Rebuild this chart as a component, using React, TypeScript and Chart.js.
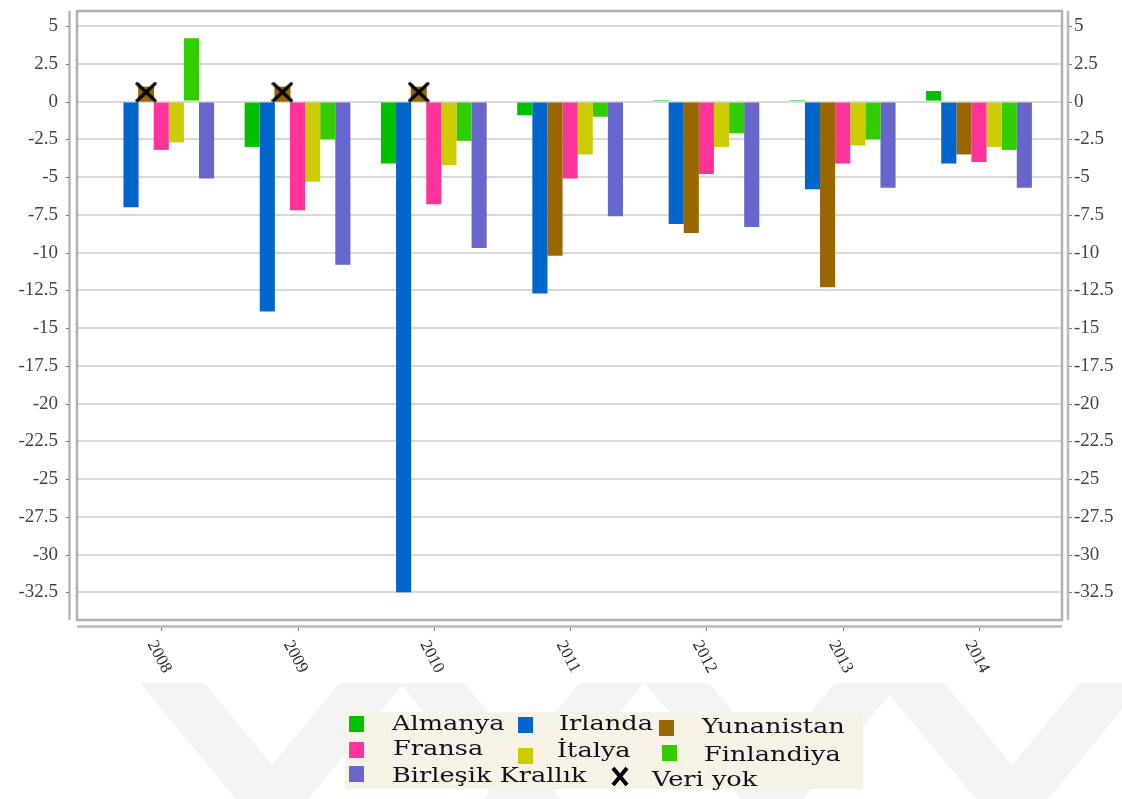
import { useEffect, useRef } from 'react';
import { Chart, registerables } from 'chart.js';

Chart.register(...registerables);

// Years on the horizontal axis
const YEARS = ['2008', '2009', '2010', '2011', '2012', '2013', '2014'];

// Values per country and year (null = no bar)
const ALMANYA = [null, -3.0, -4.1, -0.9, 0.1, 0.1, 0.7];
const IRLANDA = [-7.0, -13.9, -32.5, -12.7, -8.1, -5.8, -4.1];
const YUNANISTAN = [null, null, null, -10.2, -8.7, -12.3, -3.5];
const FRANSA = [-3.2, -7.2, -6.8, -5.1, -4.8, -4.1, -4.0];
const ITALYA = [-2.7, -5.3, -4.2, -3.5, -3.0, -2.9, -3.0];
const FINLANDIYA = [4.2, -2.5, -2.6, -1.0, -2.1, -2.5, -3.2];
const BIRLESIK = [-5.1, -10.8, -9.7, -7.6, -8.3, -5.7, -5.7];

// Years in which Yunanistan has no data
const VERI_YOK_YEARS = ['2008', '2009', '2010'];

const SERIES_LABELS = ['Almanya', 'Irlanda', 'Yunanistan', 'Fransa', 'İtalya', 'Finlandiya', 'Birleşik Krallık'];
const SERIES_VALUES = [ALMANYA, IRLANDA, YUNANISTAN, FRANSA, ITALYA, FINLANDIYA, BIRLESIK];
const SERIES_COLORS = ['#00c000', '#0066cc', '#996600', '#ff3399', '#cccc00', '#33cc00', '#6666cc'];

const Y_TICKS = [5, 2.5, 0, -2.5, -5, -7.5, -10, -12.5, -15, -17.5, -20, -22.5, -25, -27.5, -30, -32.5];
const Y_MIN = -34.33;
const Y_MAX = 6.0;

const CATEGORY_PCT = 0.776;
const NO_DATA_SERIES = 2; // Yunanistan slot inside each year group

const W = 1122;
const H = 799;
const AREA = { left: 77, top: 4, right: 1062, bottom: 620 };

const LABEL_FONT = "17px 'Liberation Serif', 'Times New Roman', serif";
const LEGEND_FONT = "21px 'DejaVu Serif', serif";

function makeNoDataMarker(): HTMLCanvasElement {
  const c = document.createElement('canvas');
  c.width = 22;
  c.height = 40;
  const ctx = c.getContext('2d')!;
  ctx.fillStyle = '#996600';
  ctx.fillRect(3, 5, 16, 15);
  ctx.strokeStyle = '#000';
  ctx.lineWidth = 3.2;
  ctx.lineCap = 'round';
  ctx.beginPath();
  ctx.moveTo(2, 2);
  ctx.lineTo(20, 19);
  ctx.moveTo(20, 2);
  ctx.lineTo(2, 19);
  ctx.stroke();
  return c;
}

const backdropPlugin = {
  id: 'backdrop',
  beforeDraw(chart: any) {
    const ctx = chart.ctx as CanvasRenderingContext2D;
    ctx.save();
    ctx.fillStyle = '#fff';
    ctx.fillRect(0, 0, W, H);
    // faint chevron watermark at the bottom of the page
    ctx.fillStyle = '#f4f4f4';
    const top = 683;
    const bottom = H;
    const dx = 96;
    const bands: [number, number][] = [
      [140, 1], [340, -1], [400, 1], [580, -1], [645, 1], [835, -1], [880, 1], [1080, -1],
    ];
    for (const [x, dir] of bands) {
      ctx.beginPath();
      ctx.moveTo(x, top);
      ctx.lineTo(x + 64, top);
      ctx.lineTo(x + 64 + dir * dx, bottom);
      ctx.lineTo(x + dir * dx, bottom);
      ctx.closePath();
      ctx.fill();
    }
    ctx.restore();
  },
};

const framePlugin = {
  id: 'frame',
  afterDraw(chart: any) {
    const ctx = chart.ctx as CanvasRenderingContext2D;
    const xs = chart.scales.x;
    const ys = chart.scales.y;
    const { left, top, right, bottom } = chart.chartArea;
    ctx.save();

    // plot frame
    ctx.strokeStyle = '#b0b0b0';
    ctx.lineWidth = 2.5;
    ctx.strokeRect(left, top, right - left, bottom - top);

    // axis lines set slightly apart from the frame
    ctx.strokeStyle = '#b8b8b8';
    ctx.lineWidth = 2.5;
    ctx.beginPath();
    ctx.moveTo(left - 7.5, top);
    ctx.lineTo(left - 7.5, bottom);
    ctx.moveTo(right + 6, top);
    ctx.lineTo(right + 6, bottom);
    ctx.moveTo(left, bottom + 6.5);
    ctx.lineTo(right, bottom + 6.5);
    ctx.stroke();

    // tick marks
    ctx.strokeStyle = '#7a7a7a';
    ctx.lineWidth = 1;
    ctx.beginPath();
    for (const v of Y_TICKS) {
      const y = Math.round(ys.getPixelForValue(v)) + 0.5;
      ctx.moveTo(left - 11, y);
      ctx.lineTo(left - 8, y);
      ctx.moveTo(right + 7, y);
      ctx.lineTo(right + 10, y);
    }
    YEARS.forEach((_, i) => {
      const x = Math.round(xs.getPixelForValue(i)) + 0.5;
      ctx.moveTo(x, bottom + 7.5);
      ctx.lineTo(x, bottom + 11);
    });
    ctx.stroke();

    // rotated year labels
    ctx.fillStyle = '#2a2a2a';
    ctx.font = LABEL_FONT;
    ctx.textAlign = 'center';
    ctx.textBaseline = 'middle';
    YEARS.forEach((year, i) => {
      const x = xs.getPixelForValue(i) - 2;
      ctx.save();
      ctx.translate(x, 657);
      ctx.rotate((62 * Math.PI) / 180);
      ctx.fillText(year, 0, 0);
      ctx.restore();
    });

    // legend
    ctx.fillStyle = '#f6f3e6';
    ctx.fillRect(345, 712, 518, 77);
    const items = [
      { sx: 349, sy: 716, tx: 392, ty: 730 },
      { sx: 518, sy: 717, tx: 559, ty: 730 },
      { sx: 659, sy: 720, tx: 702, ty: 733 },
      { sx: 349, sy: 742, tx: 393, ty: 755 },
      { sx: 518, sy: 748, tx: 557, ty: 757 },
      { sx: 662, sy: 745, tx: 704, ty: 761 },
      { sx: 349, sy: 766, tx: 392, ty: 782 },
    ];
    ctx.font = LEGEND_FONT;
    ctx.textAlign = 'left';
    ctx.textBaseline = 'alphabetic';
    items.forEach((it, i) => {
      const ds = chart.data.datasets[i];
      ctx.fillStyle = ds.backgroundColor;
      ctx.fillRect(it.sx, it.sy, 15, 16);
      ctx.fillStyle = '#15111f';
      ctx.save();
      ctx.translate(it.tx, it.ty);
      ctx.scale(1.22, 1);
      ctx.fillText(ds.label, 0, 0);
      ctx.restore();
    });
    // "Veri yok" entry
    ctx.strokeStyle = '#000';
    ctx.lineWidth = 4;
    ctx.lineCap = 'butt';
    ctx.beginPath();
    ctx.moveTo(613, 768);
    ctx.lineTo(627, 785);
    ctx.moveTo(627, 768);
    ctx.lineTo(613, 785);
    ctx.stroke();
    ctx.fillStyle = '#15111f';
    ctx.save();
    ctx.translate(652, 786);
    ctx.scale(1.22, 1);
    ctx.fillText(chart.data.datasets[7].label, 0, 0);
    ctx.restore();

    ctx.restore();
  },
};

export default function App() {
  const ref = useRef<HTMLCanvasElement>(null);

  useEffect(() => {
    const canvas = ref.current;
    if (!canvas) return;
    const marker = makeNoDataMarker();
    const slot = CATEGORY_PCT / SERIES_LABELS.length;
    const noDataOffset = (NO_DATA_SERIES + 0.5) * slot - CATEGORY_PCT / 2;

    const barSets = SERIES_LABELS.map((label, s) => ({
      type: 'bar' as const,
      label,
      data: SERIES_VALUES[s].map((v, i) => ({ x: i, y: v })),
      backgroundColor: SERIES_COLORS[s],
      borderWidth: 0,
      categoryPercentage: CATEGORY_PCT,
      barPercentage: 1.0,
      order: 1,
    }));

    const noDataSet = {
      type: 'scatter' as const,
      label: 'Veri yok',
      data: VERI_YOK_YEARS.map((yr) => ({ x: YEARS.indexOf(yr) + noDataOffset, y: 0 })),
      pointStyle: marker,
      pointRadius: 10,
      backgroundColor: '#000',
      order: 0,
    };

    const chart = new Chart(canvas, {
      type: 'bar',
      data: { datasets: [...barSets, noDataSet] as any },
      options: {
        responsive: false,
        animation: false,
        events: [],
        layout: { padding: { top: AREA.top, left: 0, right: 0, bottom: 0 } },
        plugins: { legend: { display: false }, tooltip: { enabled: false } },
        scales: {
          x: {
            type: 'linear',
            offset: false,
            min: -0.618,
            max: 6.609,
            afterBuildTicks: (s: any) => {
              s.ticks = YEARS.map((_, i) => ({ value: i }));
            },
            grid: { display: false },
            border: { display: false },
            ticks: { display: false },
            afterFit: (s: any) => {
              s.height = H - AREA.bottom;
              s.paddingLeft = 0;
              s.paddingRight = 0;
            },
          },
          y: {
            position: 'left',
            min: Y_MIN,
            max: Y_MAX,
            afterBuildTicks: (s: any) => {
              s.ticks = Y_TICKS.map((v) => ({ value: v }));
            },
            grid: { color: '#d9d9d9', lineWidth: 2, drawTicks: false },
            border: { display: false },
            ticks: {
              padding: 19,
              color: '#444',
              font: { family: "'Liberation Serif', 'Times New Roman', serif", size: 19 },
              callback: (v: any) => String(v),
            },
            afterFit: (s: any) => {
              s.width = AREA.left;
              s.paddingTop = 0;
              s.paddingBottom = 0;
            },
          },
          y2: {
            position: 'right',
            min: Y_MIN,
            max: Y_MAX,
            afterBuildTicks: (s: any) => {
              s.ticks = Y_TICKS.map((v) => ({ value: v }));
            },
            grid: { display: false, drawTicks: false },
            border: { display: false },
            ticks: {
              padding: 12,
              color: '#444',
              font: { family: "'Liberation Serif', 'Times New Roman', serif", size: 19 },
              callback: (v: any) => String(v),
            },
            afterFit: (s: any) => {
              s.width = W - AREA.right;
              s.paddingTop = 0;
              s.paddingBottom = 0;
            },
          },
        },
      } as any,
      plugins: [backdropPlugin, framePlugin],
    });

    return () => chart.destroy();
  }, []);

  return (
    <div style={{ position: 'fixed', left: 0, top: 0, width: W, height: H, background: '#fff' }}>
      <canvas ref={ref} width={W} height={H} style={{ display: 'block', width: W, height: H }} />
    </div>
  );
}
